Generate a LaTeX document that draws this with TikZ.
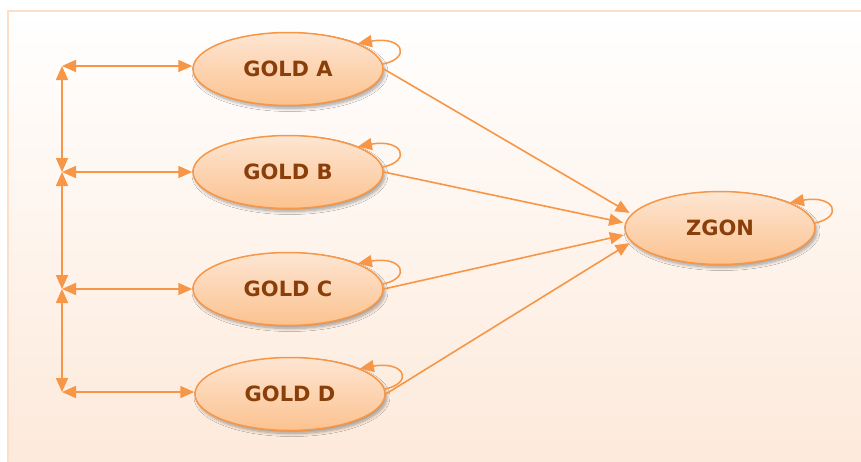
\documentclass[tikz,border=0pt]{standalone}
\usepackage{fontspec}
\setmainfont{DejaVu Sans}
\usetikzlibrary{shapes.geometric,arrows.meta,shadows.blur}
\definecolor{edgeor}{HTML}{F79646}
\definecolor{filltop}{HTML}{FDE6D3}
\definecolor{fillbot}{HTML}{FCC28F}
\definecolor{txtbrown}{HTML}{8A3E0A}
\definecolor{bgbot}{HTML}{FDE9DA}
\definecolor{bgline}{HTML}{FDDFC7}
\tikzset{
  gold/.style={ellipse, minimum width=190pt, minimum height=73pt, inner sep=0pt,
    draw=edgeor, line width=1.5pt, top color=filltop, bottom color=fillbot,
    text=txtbrown, font=\fontsize{21}{25}\selectfont\bfseries,
    blur shadow={shadow xshift=2pt, shadow yshift=-3pt, shadow blur steps=8, shadow blur radius=3pt, shadow opacity=35}},
  conn/.style={draw=edgeor, line width=1.6pt, -{Triangle[length=14pt,width=12pt]}},
  dbl/.style={draw=edgeor, line width=1.6pt, {Triangle[length=14pt,width=12pt]}-{Triangle[length=14pt,width=12pt]}},
  loopc/.style={draw=edgeor, line width=1.5pt, -{Triangle[length=14pt,width=12pt]}}
}
\begin{document}
\begin{tikzpicture}[x=1pt,y=-1pt]
\clip (0,0) rectangle (861,461);
\path[top color=white, bottom color=bgbot, draw=bgline, line width=2pt] (8,11) rectangle (870,470);

\node[gold] (A) at (288,69) {GOLD A};
\node[gold] (B) at (288,172) {GOLD B};
\node[gold] (C) at (288,289) {GOLD C};
\node[gold] (D) at (290,394) {GOLD D};
\node[gold] (Z) at (720,228) {ZGON};

\coordinate (P1) at (62,66);
\coordinate (P2) at (62,172);
\coordinate (P3) at (62,289);
\coordinate (P4) at (62,392);

\draw[dbl] (P1) -- (P1 -| A.west);
\draw[dbl] (P2) -- (P2 -| B.west);
\draw[dbl] (P3) -- (P3 -| C.west);
\draw[dbl] (P4) -- (P4 -| D.west);
\draw[dbl] (P1) -- (P2);
\draw[dbl] (P2) -- (P3);
\draw[dbl] (P3) -- (P4);

\draw[conn, shorten >=2pt] (A.east) -- (Z.171);
\draw[conn, shorten >=2pt] (B.east) -- (Z.177);
\draw[conn, shorten >=2pt] (C.east) -- (Z.184);
\draw[conn, shorten >=2pt] (D.east) -- (Z.189);

\foreach \n in {A,B,C,D,Z}{
  \draw[loopc] (\n.3) .. controls +(29,-6) and +(45,-8) .. (\n.20);
}
\end{tikzpicture}
\end{document}
